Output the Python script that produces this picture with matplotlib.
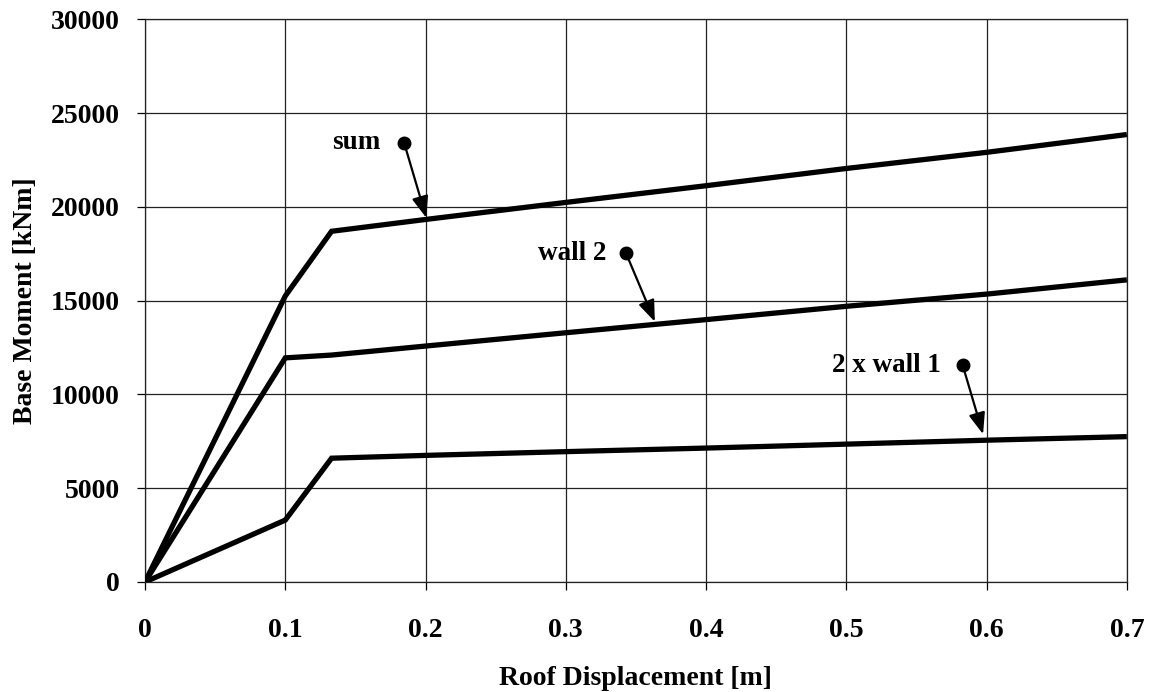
import matplotlib
matplotlib.use("Agg")
import matplotlib.pyplot as plt

# Pushover curves: base moment against roof displacement
displacement = [0.0, 0.1, 0.133, 0.2, 0.3, 0.4, 0.5, 0.6, 0.7]
moment_sum = [0, 15250, 18700, 19330, 20240, 21130, 22050, 22910, 23860]
moment_wall2 = [0, 11950, 12100, 12580, 13290, 13990, 14700, 15350, 16110]
moment_2x_wall1 = [0, 3300, 6600, 6750, 6950, 7140, 7350, 7560, 7750]

x_ticks = [0, 0.1, 0.2, 0.3, 0.4, 0.5, 0.6, 0.7]
x_tick_labels = ["0", "0.1", "0.2", "0.3", "0.4", "0.5", "0.6", "0.7"]
y_ticks = [0, 5000, 10000, 15000, 20000, 25000, 30000]

# Curve labels: text, text position, dot position, arrow tip
labels = ["sum", "wall 2", "2 x wall 1"]
label_text_xy = [(0.168, 23450), (0.3287, 17520), (0.5675, 11550)]
label_dot_xy = [(0.1848, 23400), (0.343, 17520), (0.583, 11550)]
label_tip_xy = [(0.2005, 19420), (0.3635, 13880), (0.5975, 7880)]

plt.rcParams["font.family"] = ["Liberation Serif", "DejaVu Serif"]
plt.rcParams["font.weight"] = "bold"

fig = plt.figure(figsize=(11.51, 6.92), dpi=100)
ax = fig.add_axes([0.126, 0.159, 0.853, 0.813])

for series in (moment_sum, moment_wall2, moment_2x_wall1):
    ax.plot(displacement, series, color="black", linewidth=3.8,
            solid_joinstyle="miter", solid_capstyle="butt", zorder=3)

for text, txy, dxy, pxy in zip(labels, label_text_xy, label_dot_xy, label_tip_xy):
    ax.text(txy[0], txy[1], text, ha="right", va="center",
            fontsize=19.5, fontweight="bold", zorder=5)
    ax.plot([dxy[0]], [dxy[1]], marker="o", markersize=9,
            color="black", zorder=5)
    ax.annotate("", xy=pxy, xytext=dxy,
                arrowprops=dict(arrowstyle="-|>,head_length=1.3,head_width=0.5",
                                color="black", lw=1.6, shrinkA=0, shrinkB=0),
                zorder=5)

ax.set_xlim(0, 0.7)
ax.set_ylim(0, 30000)
ax.set_xticks(x_ticks)
ax.set_xticklabels(x_tick_labels)
ax.set_yticks(y_ticks)

ax.grid(True, color="#222222", linewidth=0.9)
ax.set_axisbelow(True)
for spine in ax.spines.values():
    spine.set_color("#222222")
    spine.set_linewidth(0.9)

ax.tick_params(axis="x", direction="out", length=6, width=0.9,
               pad=20, labelsize=20)
ax.tick_params(axis="y", direction="out", length=6, width=0.9,
               pad=12, labelsize=20)
for lab in ax.get_xticklabels() + ax.get_yticklabels():
    lab.set_fontweight("bold")

ax.set_xlabel("Roof Displacement [m]", fontsize=20, fontweight="bold")
ax.set_ylabel("Base Moment [kNm]", fontsize=20, fontweight="bold")
ax.xaxis.set_label_coords(0.5, -0.1707)
ax.xaxis.label.set_va("center")
ax.yaxis.set_label_coords(-0.1222, 0.5)
ax.yaxis.label.set_va("center")

fig.savefig("out.png", dpi=100, facecolor="white")
